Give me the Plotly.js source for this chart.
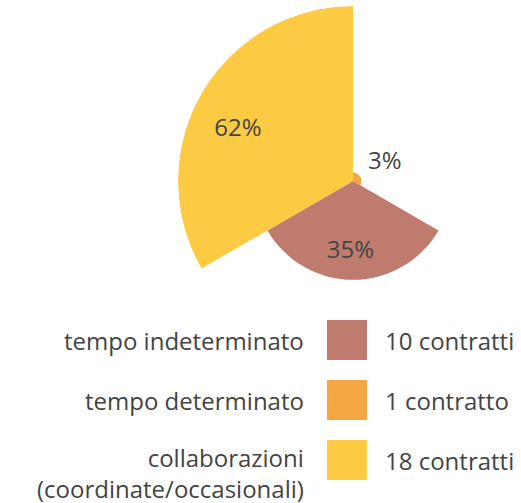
<!DOCTYPE html>
<html>
<head>
<meta charset="utf-8">
<script src="https://cdn.plot.ly/plotly-3.0.1.min.js"></script>
<style>
  html, body { margin: 0; padding: 0; overflow: hidden; background: #fff; }
  #chart { width: 540px; height: 503px; }
</style>
</head>
<body>
<div id="chart"></div>
<script>
// data
let categories = ['tempo indeterminato', 'tempo determinato', 'collaborazioni<br>(coordinate/occasionali)'];
let counts = [10, 1, 18];
let percents = [35, 3, 62];
let colors = ['#BF7B6E', '#F4A742', '#FDCA44'];

const W = 540, H = 503;
const textColor = '#444444';
const fontFamily = '"Open Sans", Lato, sans-serif';

function px(x) { return x / W; }
function py(y) { return 1 - y / H; }

// each slice gets a 120 degree sector, starting at the bottom, counterclockwise
let thetas = percents.map(function(p, i) { return (270 + 120 * i) % 360; });

// label placement (inside for big slices, outside for the tiny one)
let labelNudge = [-2, 0, 6];
let labelR = percents.map(function(p) { return p > 10 ? p * 0.72 : p + 10; });
let labelTheta = thetas.map(function(t, i) { return t + labelNudge[i]; });

var bars = {
    type: 'barpolar',
    r: percents,
    theta: thetas,
    width: percents.map(function() { return 120; }),
    marker: { color: colors, line: { width: 0 } },
    hoverinfo: 'skip',
    showlegend: false
};

var labels = {
    type: 'scatterpolar',
    mode: 'text',
    r: labelR,
    theta: labelTheta,
    text: percents.map(function(p) { return p + '%'; }),
    textfont: { family: fontFamily, size: 24, color: textColor },
    hoverinfo: 'skip',
    showlegend: false
};

// custom legend: label | colour box | number of contracts
var shapes = [];
var annotations = [];
let rowTop = [320, 380, 440];
for (let i = 0; i < categories.length; i++) {
    shapes.push({
        type: 'rect', xref: 'paper', yref: 'paper',
        x0: px(327), x1: px(367), y0: py(rowTop[i]), y1: py(rowTop[i] + 40),
        fillcolor: colors[i], line: { width: 0 }
    });
    let multi = categories[i].indexOf('<br>') >= 0;
    annotations.push({
        xref: 'paper', yref: 'paper',
        x: px(306), y: py(rowTop[i] + 20 + (multi ? 13 : 0)),
        xanchor: 'right', yanchor: 'middle', align: 'right',
        text: categories[i], showarrow: false,
        font: { family: fontFamily, size: 24, color: textColor }
    });
    annotations.push({
        xref: 'paper', yref: 'paper',
        x: px(383), y: py(rowTop[i] + 20),
        xanchor: 'left', yanchor: 'middle', align: 'left',
        text: counts[i] + (counts[i] === 1 ? ' contratto' : ' contratti'),
        showarrow: false,
        font: { family: fontFamily, size: 24, color: textColor }
    });
}

var layout = {
    width: W,
    height: H,
    margin: { l: 0, r: 0, t: 0, b: 0 },
    paper_bgcolor: '#ffffff',
    showlegend: false,
    polar: {
        domain: { x: [px(178), px(528)], y: [py(356), py(6)] },
        bgcolor: 'rgba(0,0,0,0)',
        radialaxis: { range: [0, 62], visible: false },
        angularaxis: { visible: false, direction: 'counterclockwise', rotation: 0 }
    },
    shapes: shapes,
    annotations: annotations
};

Plotly.newPlot('chart', [bars, labels], layout, { displayModeBar: false, staticPlot: true });
</script>
</body>
</html>
